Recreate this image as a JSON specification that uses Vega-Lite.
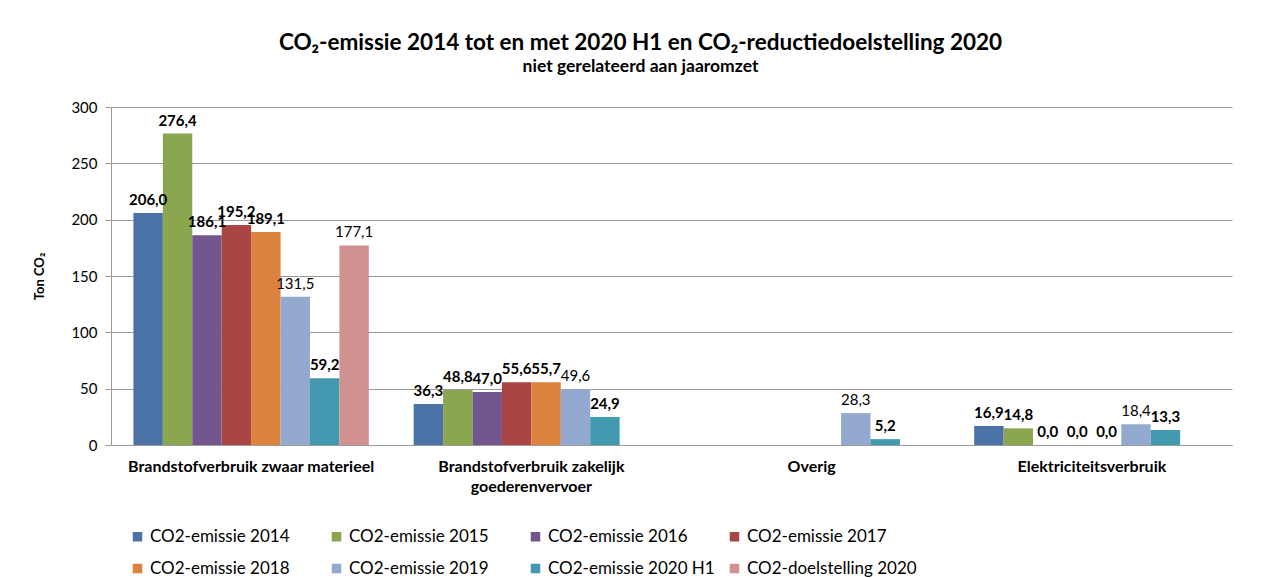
{
  "$schema": "https://vega.github.io/schema/vega-lite/v6.json",
  "width": 1121,
  "height": 338,
  "autosize": {"type": "none"},
  "padding": {"left": 111, "top": 107, "right": 47, "bottom": 133},
  "background": "white",
  "title": {
    "text": "CO₂-emissie 2014 tot en met 2020 H1 en CO₂-reductiedoelstelling 2020",
    "subtitle": "niet gerelateerd aan jaaromzet",
    "anchor": "middle",
    "dx": -31,
    "offset": 25,
    "font": "Lato",
    "fontSize": 22.5,
    "fontWeight": "bold",
    "color": "#000000",
    "subtitleFont": "Lato",
    "subtitleFontSize": 17.5,
    "subtitleFontWeight": "bold",
    "subtitleColor": "#000000",
    "subtitlePadding": 3
  },
  "config": {
    "locale": {"number": {"decimal": ",", "thousands": ".", "grouping": [3], "currency": ["€", ""]}},
    "view": {"stroke": null},
    "font": "Lato"
  },
  "data": {
    "values": [
      {"cat": "Brandstofverbruik zwaar materieel", "series": "CO2-emissie 2014", "value": 206.0},
      {"cat": "Brandstofverbruik zwaar materieel", "series": "CO2-emissie 2015", "value": 276.4},
      {"cat": "Brandstofverbruik zwaar materieel", "series": "CO2-emissie 2016", "value": 186.1},
      {"cat": "Brandstofverbruik zwaar materieel", "series": "CO2-emissie 2017", "value": 195.2},
      {"cat": "Brandstofverbruik zwaar materieel", "series": "CO2-emissie 2018", "value": 189.1},
      {"cat": "Brandstofverbruik zwaar materieel", "series": "CO2-emissie 2019", "value": 131.5},
      {"cat": "Brandstofverbruik zwaar materieel", "series": "CO2-emissie 2020 H1", "value": 59.2},
      {"cat": "Brandstofverbruik zwaar materieel", "series": "CO2-doelstelling 2020", "value": 177.1},
      {"cat": "Brandstofverbruik zakelijk goederenvervoer", "series": "CO2-emissie 2014", "value": 36.3},
      {"cat": "Brandstofverbruik zakelijk goederenvervoer", "series": "CO2-emissie 2015", "value": 48.8},
      {"cat": "Brandstofverbruik zakelijk goederenvervoer", "series": "CO2-emissie 2016", "value": 47.0},
      {"cat": "Brandstofverbruik zakelijk goederenvervoer", "series": "CO2-emissie 2017", "value": 55.6},
      {"cat": "Brandstofverbruik zakelijk goederenvervoer", "series": "CO2-emissie 2018", "value": 55.7},
      {"cat": "Brandstofverbruik zakelijk goederenvervoer", "series": "CO2-emissie 2019", "value": 49.6},
      {"cat": "Brandstofverbruik zakelijk goederenvervoer", "series": "CO2-emissie 2020 H1", "value": 24.9},
      {"cat": "Overig", "series": "CO2-emissie 2019", "value": 28.3},
      {"cat": "Overig", "series": "CO2-emissie 2020 H1", "value": 5.2},
      {"cat": "Elektriciteitsverbruik", "series": "CO2-emissie 2014", "value": 16.9},
      {"cat": "Elektriciteitsverbruik", "series": "CO2-emissie 2015", "value": 14.8},
      {"cat": "Elektriciteitsverbruik", "series": "CO2-emissie 2016", "value": 0.0},
      {"cat": "Elektriciteitsverbruik", "series": "CO2-emissie 2017", "value": 0.0},
      {"cat": "Elektriciteitsverbruik", "series": "CO2-emissie 2018", "value": 0.0},
      {"cat": "Elektriciteitsverbruik", "series": "CO2-emissie 2019", "value": 18.4},
      {"cat": "Elektriciteitsverbruik", "series": "CO2-emissie 2020 H1", "value": 13.3}
    ]
  },
  "encoding": {
    "x": {
      "field": "cat",
      "type": "nominal",
      "sort": ["Brandstofverbruik zwaar materieel", "Brandstofverbruik zakelijk goederenvervoer", "Overig", "Elektriciteitsverbruik"],
      "scale": {"paddingInner": 0.16, "paddingOuter": 0.08},
      "axis": {
        "title": null,
        "labelAngle": 0,
        "labelFont": "Lato",
        "labelFontSize": 16,
        "labelFontWeight": "bold",
        "labelColor": "#000000",
        "labelPadding": 21,
        "labelLineHeight": 20,
        "labelBaseline": "middle",
        "labelLimit": 400,
        "ticks": false,
        "domainColor": "#9a9a9a",
        "labelExpr": "datum.label == 'Brandstofverbruik zakelijk goederenvervoer' ? ['Brandstofverbruik zakelijk', 'goederenvervoer'] : datum.label"
      }
    },
    "xOffset": {
      "field": "series",
      "type": "nominal",
      "scale": {
        "domain": ["CO2-emissie 2014", "CO2-emissie 2015", "CO2-emissie 2016", "CO2-emissie 2017", "CO2-emissie 2018", "CO2-emissie 2019", "CO2-emissie 2020 H1", "CO2-doelstelling 2020"],
        "paddingInner": 0,
        "paddingOuter": 0
      }
    },
    "y": {
      "field": "value",
      "type": "quantitative",
      "scale": {"domain": [0, 300], "nice": false},
      "axis": {
        "title": "Ton CO₂",
        "titleFont": "Lato",
        "titleFontSize": 13,
        "titleFontWeight": "bold",
        "titleColor": "#000000",
        "titlePadding": 24,
        "values": [0, 50, 100, 150, 200, 250, 300],
        "labelFont": "Lato",
        "labelFontSize": 15,
        "labelColor": "#000000",
        "labelPadding": 8,
        "tickColor": "#9a9a9a",
        "tickSize": 6,
        "domainColor": "#9a9a9a",
        "gridColor": "#9a9a9a",
        "grid": true
      }
    }
  },
  "layer": [
    {
      "mark": {"type": "bar"},
      "encoding": {
        "color": {
          "field": "series",
          "type": "nominal",
          "scale": {
            "domain": ["CO2-emissie 2014", "CO2-emissie 2015", "CO2-emissie 2016", "CO2-emissie 2017", "CO2-emissie 2018", "CO2-emissie 2019", "CO2-emissie 2020 H1", "CO2-doelstelling 2020"],
            "range": ["#4a72a6", "#8aa64e", "#74568f", "#a94543", "#db823e", "#93a9d0", "#4299b0", "#d29191"]
          },
          "legend": {
            "title": null,
            "orient": "none",
            "legendX": 18,
            "legendY": 421,
            "direction": "horizontal",
            "columns": 4,
            "gridAlign": "all",
            "columnPadding": 8,
            "rowPadding": 14,
            "symbolType": "square",
            "symbolSize": 90,
            "symbolStrokeWidth": 0,
            "labelFont": "Lato",
            "labelFontSize": 17,
            "labelColor": "#000000",
            "labelOffset": 4,
            "labelLimit": 300
          }
        }
      }
    },
    {
      "transform": [{"filter": "datum.series != 'CO2-emissie 2019' && datum.series != 'CO2-doelstelling 2020'"}],
      "mark": {"type": "text", "baseline": "bottom", "dy": -5, "font": "Lato", "fontSize": 15, "fontWeight": "bold", "color": "#000000"},
      "encoding": {"text": {"field": "value", "type": "quantitative", "format": ".1f"}}
    },
    {
      "transform": [{"filter": "datum.series == 'CO2-emissie 2019' || datum.series == 'CO2-doelstelling 2020'"}],
      "mark": {"type": "text", "baseline": "bottom", "dy": -5, "font": "Lato", "fontSize": 15, "fontWeight": "normal", "color": "#000000"},
      "encoding": {"text": {"field": "value", "type": "quantitative", "format": ".1f"}}
    }
  ]
}
